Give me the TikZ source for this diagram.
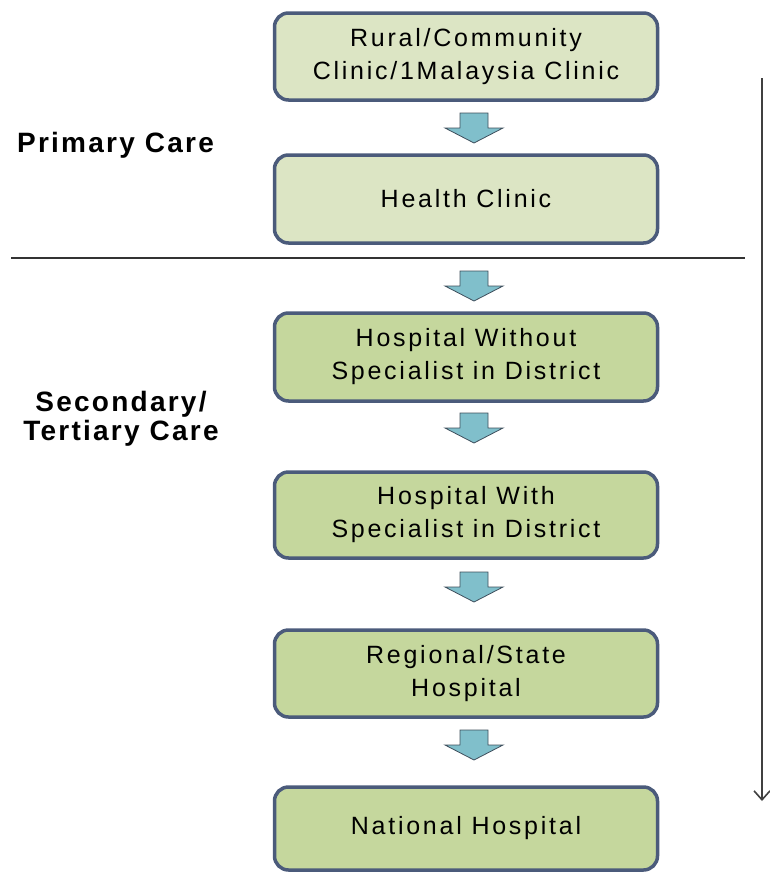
\documentclass[tikz,border=0pt]{standalone}
\usepackage{fontspec}
\setmainfont{Liberation Sans}
\usetikzlibrary{arrows.meta}
\definecolor{lightfill}{HTML}{DCE5C4}
\definecolor{darkfill}{HTML}{C5D79D}
\definecolor{boxborder}{HTML}{4B5B7B}
\definecolor{arrowfill}{HTML}{80BFCB}
\definecolor{arrowline}{HTML}{3E4E5C}
\tikzset{
  levelbox/.style={draw=boxborder, line width=3.5pt, rounded corners=14pt,
    minimum width=383pt, align=center, inner sep=0pt,
    font=\fontsize{25}{33}\selectfont\addfontfeature{LetterSpace=11}},
  primbox/.style={levelbox, fill=lightfill},
  secbox/.style={levelbox, fill=darkfill},
  blockarrow/.style={fill=arrowfill, draw=arrowline, line width=0.8pt, line join=miter},
  carelabel/.style={font=\fontsize{28}{29}\selectfont\bfseries\addfontfeature{LetterSpace=8}, align=center, inner sep=0pt},
}
\newcommand{\downblock}[1]{%
  \path[blockarrow] ([shift={(-14,-15)}]#1) -- ([shift={(14,-15)}]#1) -- ([shift={(14,0)}]#1)
    -- ([shift={(29,0)}]#1) -- ([shift={(0,15)}]#1) -- ([shift={(-29,0)}]#1)
    -- ([shift={(-14,0)}]#1) -- cycle;}
\begin{document}
\begin{tikzpicture}[x=1pt,y=-1pt]
\useasboundingbox (0,0) rectangle (770,873);
\node[primbox, minimum height=87pt] (b1) at (466,56.5) {Rural/Community\\Clinic/1Malaysia Clinic};
\node[primbox, minimum height=88pt] (b2) at (466,199) {Health Clinic};
\node[secbox, minimum height=88pt] (b3) at (466,357) {Hospital Without\\Specialist in District};
\node[secbox, minimum height=86pt] (b4) at (466,515) {Hospital With\\Specialist in District};
\node[secbox, minimum height=87pt] (b5) at (466,673.5) {Regional/State\\Hospital};
\node[secbox, minimum height=83pt] (b6) at (466,828.5) {National Hospital};

\coordinate (sepL) at (11,258);
\coordinate (sepR) at (745,258);
\draw[line width=1.2pt, black!80] (sepL) -- (sepR);

\coordinate (a1) at (474,128);
\coordinate (a2) at (474,286);
\coordinate (a3) at (474,428);
\coordinate (a4) at (474,587);
\coordinate (a5) at (474,745);
\downblock{a1}
\downblock{a2}
\downblock{a3}
\downblock{a4}
\downblock{a5}

\coordinate (vtop) at (762,78);
\coordinate (vbot) at (762,801);
\draw[line width=1.6pt, black!75, -{Straight Barb[length=9pt,width=16pt,line width=1.6pt]}] (vtop) -- (vbot);

\node[carelabel, anchor=west] (primary) at (17,145) {Primary Care};
\node[carelabel] (secondary) at (121,419) {Secondary/\\Tertiary Care};
\end{tikzpicture}
\end{document}
